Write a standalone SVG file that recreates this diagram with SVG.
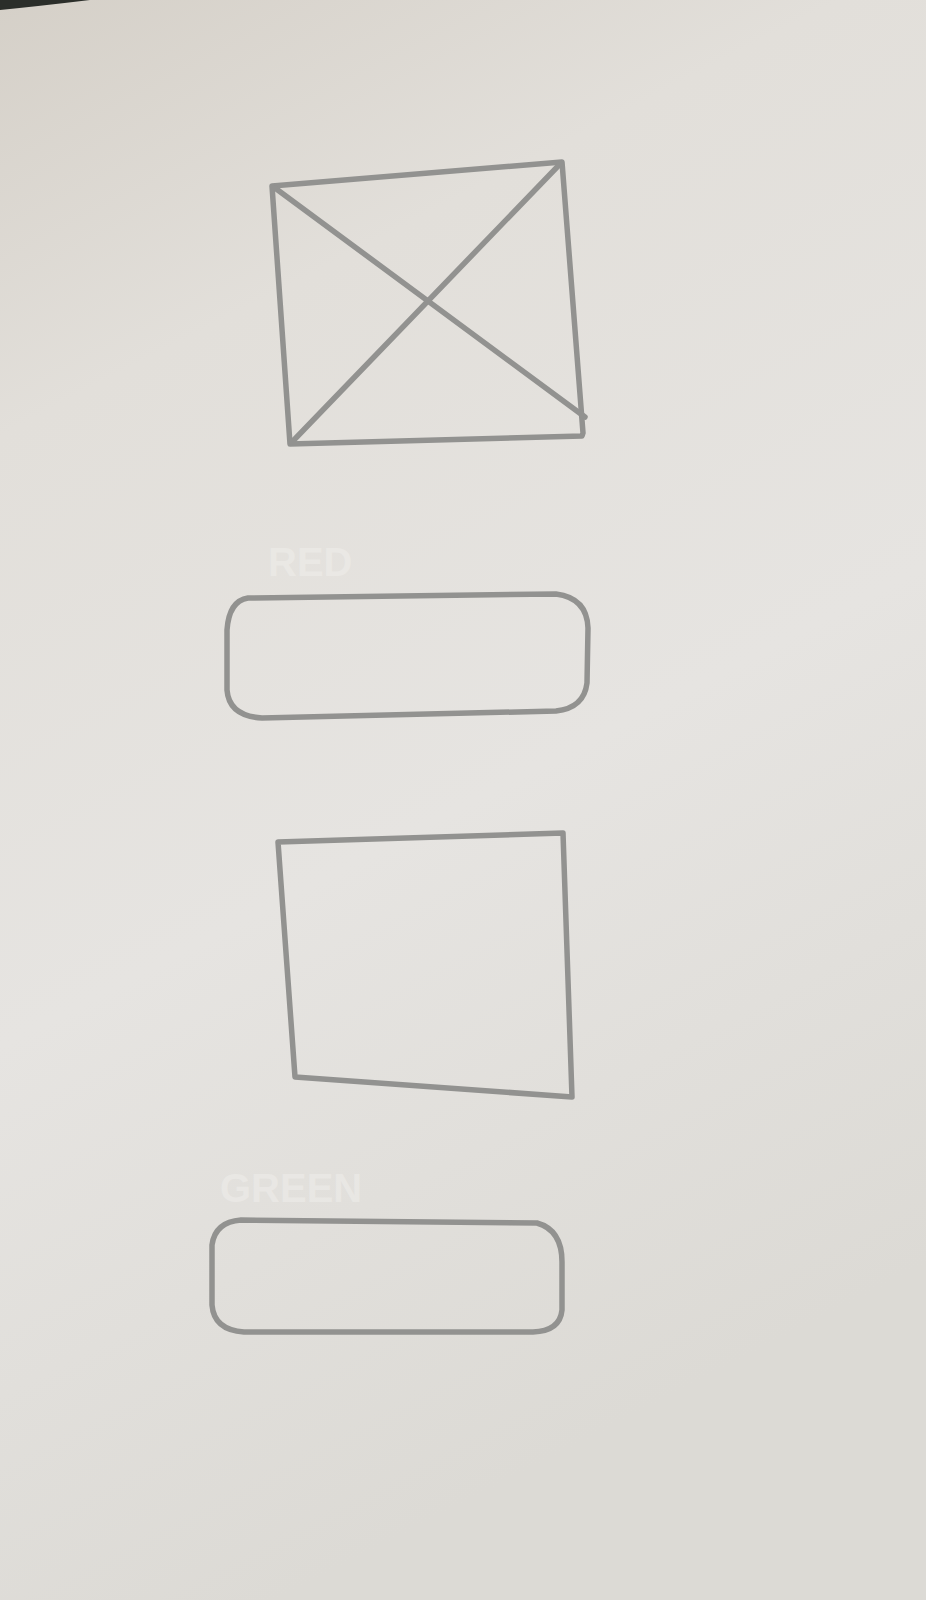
<svg xmlns="http://www.w3.org/2000/svg" width="926" height="1600" viewBox="0 0 926 1600">
<defs>
<linearGradient id="paper" x1="0" y1="0" x2="0.3" y2="1">
<stop offset="0" stop-color="#d5d0c8"/>
<stop offset="0.25" stop-color="#e2dfda"/>
<stop offset="0.6" stop-color="#e6e4e1"/>
<stop offset="1" stop-color="#dcdad5"/>
</linearGradient>
<style>
.pen{fill:none;stroke:#929290;stroke-width:5.5;stroke-linecap:round;stroke-linejoin:round}
.emb{font-family:"Liberation Sans",Arial,sans-serif;font-weight:bold;fill:#f2f1ee;opacity:0.45}
</style>
</defs>
<rect width="926" height="1600" fill="url(#paper)"/>
<path d="M0,0 L90,0 Q40,6 0,10 Z" fill="#2b2e2a"/>
<g id="node-crossed-box">
<path class="pen" d="M272,186 L562,162 L583,433 L582,436 L290,444 Z"/>
<path class="pen" d="M275,188 L585,417"/>
<path class="pen" d="M561,163 L292,442"/>
</g>
<g id="node-rounded-1">
<text class="emb" x="268" y="576" font-size="40">RED</text>
<path class="pen" d="M248,598 L556,594 Q587,598 588,628 L587,683 Q584,708 556,711 L262,718 Q229,716 227,690 L227,630 Q229,601 248,598 Z"/>
</g>
<g id="node-square">
<path class="pen" d="M278,842 L563,833 L572,1097 L295,1077 Z"/>
</g>
<g id="node-rounded-2">
<text class="emb" x="220" y="1202" font-size="40">GREEN</text>
<path class="pen" d="M241,1220 L537,1223 Q562,1230 562,1262 L562,1310 Q560,1331 533,1332 L244,1332 Q214,1330 212,1305 L212,1245 Q215,1222 241,1220 Z"/>
</g>
<g id="connectors"></g>
</svg>
